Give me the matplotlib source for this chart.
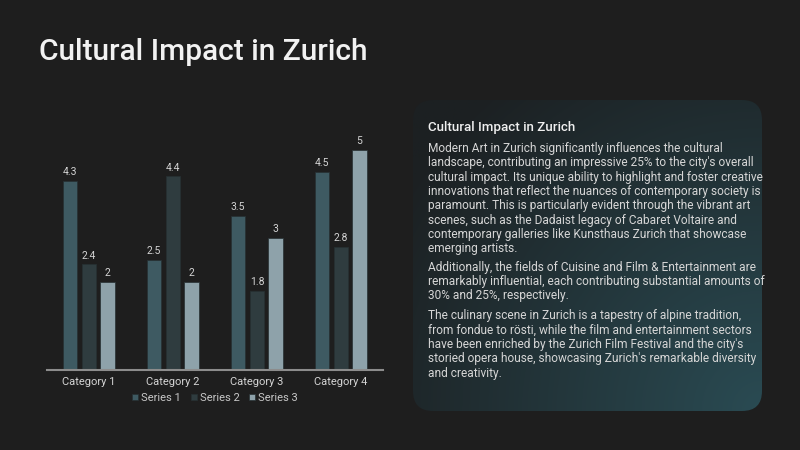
import numpy as np
import matplotlib
matplotlib.use("Agg")
import matplotlib.pyplot as plt
from matplotlib.patches import FancyBboxPatch

# ---- data ----
categories = ["Category 1", "Category 2", "Category 3", "Category 4"]
series_names = ["Series 1", "Series 2", "Series 3"]
series1 = [4.3, 2.5, 3.5, 4.5]
series2 = [2.4, 4.4, 1.8, 2.8]
series3 = [2, 2, 3, 5]
series_colors = ["#3e5a62", "#2f3c3f", "#8ea2aa"]

title = "Cultural Impact in Zurich"
panel_title = "Cultural Impact in Zurich"
paragraphs = [
    ["Modern Art in Zurich significantly influences the cultural",
     "landscape, contributing an impressive 25% to the city's overall",
     "cultural impact. Its unique ability to highlight and foster creative",
     "innovations that reflect the nuances of contemporary society is",
     "paramount. This is particularly evident through the vibrant art",
     "scenes, such as the Dadaist legacy of Cabaret Voltaire and",
     "contemporary galleries like Kunsthaus Zurich that showcase",
     "emerging artists."],
    ["Additionally, the fields of Cuisine and Film & Entertainment are",
     "remarkably influential, each contributing substantial amounts of",
     "30% and 25%, respectively."],
    ["The culinary scene in Zurich is a tapestry of alpine tradition,",
     "from fondue to r\u00f6sti, while the film and entertainment sectors",
     "have been enriched by the Zurich Film Festival and the city's",
     "storied opera house, showcasing Zurich's remarkable diversity",
     "and creativity."],
]

FONT = ["Roboto", "DejaVu Sans"]
plt.rcParams['font.family'] = FONT
BG = "#1e1e1e"

W, H = 800, 450
fig = plt.figure(figsize=(8, 4.5), dpi=100, facecolor=BG)

# background overlay axes in pixel coords
bg = fig.add_axes([0, 0, 1, 1])
bg.set_xlim(0, W)
bg.set_ylim(H, 0)
bg.axis("off")
bg.set_zorder(0)

# gradient panel (radial from bottom-right corner)
x0, x1, y0, y1 = 413, 762, 100, 411
pw, ph = x1 - x0, y1 - y0
gx = np.linspace(0, pw, 300)
gy = np.linspace(0, ph, 300)
GX, GY = np.meshgrid(gx, gy)
d = np.sqrt((pw - GX) ** 2 + (ph - GY) ** 2)
t = np.clip(1 - d / 420.0, 0, 1) ** 1.0
c0 = np.array([0x1c, 0x20, 0x22]) / 255
c1 = np.array([0x2a, 0x4b, 0x53]) / 255
img = c0[None, None, :] * (1 - t[..., None]) + c1[None, None, :] * t[..., None]
im = bg.imshow(img, extent=[x0, x1, y1, y0], origin="upper", aspect="auto", zorder=1)
patch = FancyBboxPatch((x0, y0), pw, ph,
                       boxstyle="round,pad=0,rounding_size=20",
                       facecolor="none", edgecolor="none", transform=bg.transData)
bg.add_patch(patch)
im.set_clip_path(patch)

# title
bg.text(39, 52, title, fontsize=21.5, fontweight="medium", color="#f2f2f2",
        va="center", ha="left")

# panel text
bg.text(428, 128, panel_title, fontsize=9.6, fontweight="medium", color="#f0f0f0",
        va="center", ha="left")
line_h = 14.35
starts = [148.3, 267.3, 315.7]
for p, ys in zip(paragraphs, starts):
    for i, line in enumerate(p):
        bg.text(428, ys + i * line_h, line, fontsize=8.6, color="#d6d6d6",
                va="center", ha="left")

# ---- bar chart ----
ax = fig.add_axes([47 / W, 80 / H, 336 / W, 240 / H])
ax.set_facecolor("none")
ax.set_zorder(2)
x = np.arange(len(categories))
bw = 0.175
offs = [-0.225, 0.0, 0.22]
all_series = [series1, series2, series3]
for s, (vals, off, col, name) in enumerate(zip(all_series, offs, series_colors, series_names)):
    ax.bar(x + off, vals, bw, color=col, label=name,
           edgecolor="#263033", linewidth=0.5)
    for xi, v in zip(x + off, vals):
        ax.text(xi, v + 0.08, f"{v:g}", ha="center", va="bottom",
                fontsize=7.5, color="#d4d4d4")

ax.set_xlim(-0.5, 3.5)
ax.set_ylim(0, 5.45)
for sp in ["top", "right", "left"]:
    ax.spines[sp].set_visible(False)
ax.spines["bottom"].set_color("#8c8c8c")
ax.spines["bottom"].set_linewidth(1.5)
ax.set_yticks([])
ax.set_xticks(x)
ax.set_xticklabels(categories, fontsize=8, color="#d4d4d4")
ax.tick_params(axis="x", length=0, pad=5)

leg = ax.legend(loc="center", bbox_to_anchor=(0.5, -0.117), ncol=3, frameon=False,
                fontsize=8, handlelength=0.55, handleheight=0.55, handletextpad=0.25,
                columnspacing=0.9, borderpad=0)
for txt in leg.get_texts():
    txt.set_color("#c8c8c8")

fig.savefig("out.png", dpi=100, facecolor=BG)
